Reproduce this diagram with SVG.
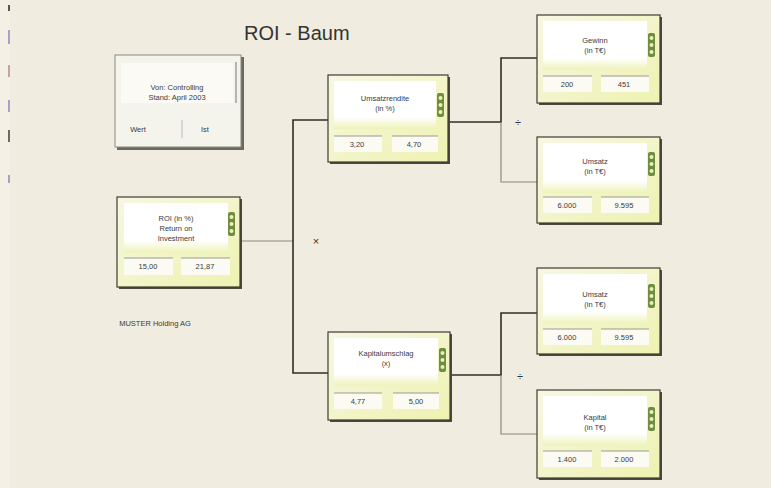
<svg xmlns="http://www.w3.org/2000/svg" width="771" height="488" viewBox="0 0 771 488">
<defs>
<linearGradient id="pg" x1="0" y1="0" x2="0" y2="1">
<stop offset="0" stop-color="#ffffff"/>
<stop offset="0.75" stop-color="#ffffff"/>
<stop offset="1" stop-color="#eef3b8"/>
</linearGradient>
<linearGradient id="bg2" x1="0" y1="0" x2="1" y2="1">
<stop offset="0" stop-color="#f7f7e4"/>
<stop offset="1" stop-color="#eef2b0"/>
</linearGradient>
<g id="icon">
<rect x="0" y="0" width="7" height="24" rx="2" fill="#6f8d3c"/>
<circle cx="3.5" cy="5" r="2" fill="#e8efc0"/>
<circle cx="3.5" cy="12" r="2" fill="#e8efc0"/>
<circle cx="3.5" cy="19" r="2" fill="#e8efc0"/>
</g>
</defs>
<style>
.t{font-family:"Liberation Sans",Arial,sans-serif;font-size:7.5px;fill:#3a3a40;text-anchor:middle}
.ttl{font-family:"Liberation Sans",Arial,sans-serif;font-size:20px;fill:#333;}
.box{fill:url(#bg2);stroke:#3c3c30;stroke-width:1.2}
.sh{fill:#4a4a40}
.panel{fill:url(#pg)}
.cell{fill:#fbfbf3}
.cl{stroke:#9a9a90;stroke-width:1}
.conn{stroke:#2e2e2a;stroke-width:1.6;fill:none}
.connl{stroke:#8a8a84;stroke-width:1.2;fill:none}
.op{font-family:"Liberation Sans",Arial,sans-serif;font-size:11px;fill:#333;text-anchor:middle}
</style>
<rect x="0" y="0" width="771" height="488" fill="#f0ecdf"/>
<rect x="0" y="0" width="10" height="488" fill="#f3f1e6"/>
<rect x="8" y="5" width="2" height="6" fill="#555"/>
<rect x="8" y="30" width="2" height="14" fill="#a9a0c8"/>
<rect x="8" y="65" width="2" height="12" fill="#c8a0a8"/>
<rect x="8" y="100" width="2" height="12" fill="#a9a0c8"/>
<rect x="8" y="130" width="2" height="12" fill="#6a6a60"/>
<rect x="8" y="175" width="2" height="8" fill="#a9a0c8"/>

<text class="ttl" x="244" y="40">ROI - Baum</text>
<text class="t" x="155" y="326" style="text-anchor:middle">MUSTER Holding AG</text>

<g id="connectors">
<path class="connl" d="M240,241 H293"/>
<path class="conn" d="M330,120 H293 V373 H331"/>
<path class="conn" d="M448,122 H501 V58 H538"/>
<path class="connl" d="M501,122 V182 H538"/>
<path class="conn" d="M450,375 H501 V313 H538"/>
<path class="connl" d="M501,375 V434 H538"/>
<text class="op" x="316" y="245">×</text>
<text class="op" x="518" y="126">÷</text>
<text class="op" x="520" y="380">÷</text>
</g>

<g id="info">
<rect x="117" y="57" width="127" height="93" fill="#6a6a60"/>
<rect x="115" y="55" width="126" height="92" fill="#f4f3ec" stroke="#8a8a80" stroke-width="1"/>
<rect x="121" y="63" width="112" height="40" fill="#fbfaf4"/>
<path d="M236,62 V103" stroke="#777" stroke-width="1"/>
<text class="t" x="177" y="90">Von: Controlling</text>
<text class="t" x="177" y="100">Stand: April 2003</text>
<text class="t" x="138" y="132">Wert</text>
<path d="M182,120 V138" stroke="#bbb" stroke-width="1"/>
<text class="t" x="205" y="132">Ist</text>
</g>

<g id="roi">
<rect x="119" y="199" width="123" height="90" class="sh"/>
<rect x="117" y="197" width="123" height="90" class="box"/>
<rect x="124" y="203" width="104" height="50" class="panel"/>
<use href="#icon" x="228" y="212"/>
<text class="t" x="176" y="221">ROI (in %)</text>
<text class="t" x="176" y="231">Return on</text>
<text class="t" x="176" y="241">Investment</text>
<rect x="124" y="258" width="49" height="17" class="cell"/>
<rect x="181" y="258" width="49" height="17" class="cell"/>
<path class="cl" d="M124,258 H173 M181,258 H230"/>
<text class="t" x="148" y="269">15,00</text>
<text class="t" x="205" y="269">21,87</text>
</g>

<g id="umsatzrendite">
<rect x="330" y="77" width="120" height="87" class="sh"/>
<rect x="328" y="75" width="120" height="87" class="box"/>
<rect x="334" y="81" width="102" height="48" class="panel"/>
<use href="#icon" x="437" y="93"/>
<text class="t" x="385" y="101">Umsatzrendite</text>
<text class="t" x="385" y="111">(in %)</text>
<rect x="334" y="136" width="48" height="16" class="cell"/>
<rect x="392" y="136" width="46" height="16" class="cell"/>
<path class="cl" d="M334,136 H382 M392,136 H438"/>
<text class="t" x="357" y="147">3,20</text>
<text class="t" x="414" y="147">4,70</text>
</g>

<g id="kapitalumschlag">
<rect x="330" y="334" width="122" height="88" class="sh"/>
<rect x="328" y="332" width="122" height="88" class="box"/>
<rect x="334" y="338" width="104" height="48" class="panel"/>
<use href="#icon" x="439" y="348"/>
<text class="t" x="386" y="356">Kapitalumschlag</text>
<text class="t" x="386" y="366">(x)</text>
<rect x="334" y="393" width="48" height="16" class="cell"/>
<rect x="393" y="393" width="46" height="16" class="cell"/>
<path class="cl" d="M334,393 H382 M393,393 H439"/>
<text class="t" x="358" y="404">4,77</text>
<text class="t" x="416" y="404">5,00</text>
</g>

<g id="gewinn">
<rect x="539" y="17" width="123" height="88" class="sh"/>
<rect x="537" y="15" width="123" height="88" class="box"/>
<rect x="543" y="21" width="104" height="49" class="panel"/>
<use href="#icon" x="648" y="33"/>
<text class="t" x="595" y="43">Gewinn</text>
<text class="t" x="595" y="53">(in T€)</text>
<rect x="543" y="76" width="49" height="16" class="cell"/>
<rect x="601" y="76" width="48" height="16" class="cell"/>
<path class="cl" d="M543,76 H592 M601,76 H649"/>
<text class="t" x="567" y="87">200</text>
<text class="t" x="624" y="87">451</text>
</g>

<g id="umsatz1">
<rect x="539" y="139" width="123" height="86" class="sh"/>
<rect x="537" y="137" width="123" height="86" class="box"/>
<rect x="543" y="143" width="104" height="50" class="panel"/>
<use href="#icon" x="648" y="152"/>
<text class="t" x="595" y="164">Umsatz</text>
<text class="t" x="595" y="174">(in T€)</text>
<rect x="543" y="197" width="49" height="16" class="cell"/>
<rect x="601" y="197" width="48" height="16" class="cell"/>
<path class="cl" d="M543,197 H592 M601,197 H649"/>
<text class="t" x="567" y="208">6.000</text>
<text class="t" x="624" y="208">9.595</text>
</g>

<g id="umsatz2">
<rect x="539" y="270" width="123" height="86" class="sh"/>
<rect x="537" y="268" width="123" height="86" class="box"/>
<rect x="543" y="274" width="104" height="50" class="panel"/>
<use href="#icon" x="648" y="284"/>
<text class="t" x="595" y="297">Umsatz</text>
<text class="t" x="595" y="307">(in T€)</text>
<rect x="543" y="329" width="49" height="16" class="cell"/>
<rect x="601" y="329" width="48" height="16" class="cell"/>
<path class="cl" d="M543,329 H592 M601,329 H649"/>
<text class="t" x="567" y="340">6.000</text>
<text class="t" x="624" y="340">9.595</text>
</g>

<g id="kapital">
<rect x="539" y="392" width="123" height="88" class="sh"/>
<rect x="537" y="390" width="123" height="88" class="box"/>
<rect x="543" y="396" width="104" height="50" class="panel"/>
<use href="#icon" x="648" y="407"/>
<text class="t" x="595" y="420">Kapital</text>
<text class="t" x="595" y="430">(in T€)</text>
<rect x="543" y="451" width="49" height="16" class="cell"/>
<rect x="601" y="451" width="48" height="16" class="cell"/>
<path class="cl" d="M543,451 H592 M601,451 H649"/>
<text class="t" x="567" y="462">1.400</text>
<text class="t" x="624" y="462">2.000</text>
</g>
</svg>
